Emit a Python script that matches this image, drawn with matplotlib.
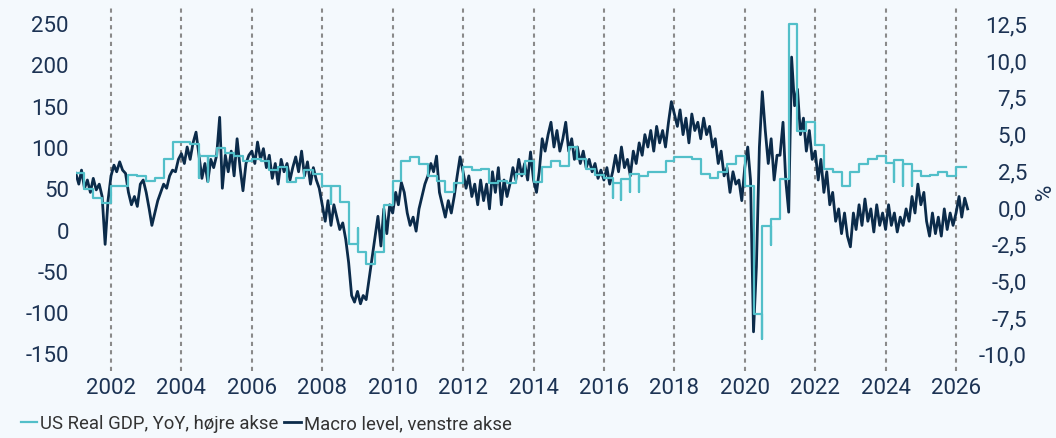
import matplotlib
matplotlib.use("Agg")
import matplotlib.pyplot as plt
import matplotlib.dates as mdates
from matplotlib.ticker import FuncFormatter
import numpy as np
import pandas as pd

BG = "#f4f9fd"
NAVY = "#0b2b4a"
CYAN = "#52bfc9"
TXT = "#1c3354"

# Macro level (left axis), monthly from Jan 2001
macro = [
    68, 55, 72, 50, 60, 45, 62, 48, 55, 40, -18, 35,          # 2001
    65, 78, 70, 82, 72, 68, 45, 30, 40, 28, 55, 60,           # 2002
    45, 25, 5, 20, 35, 45, 55, 50, 65, 72, 70, 85,            # 2003
    92, 80, 100, 85, 105, 118, 90, 62, 80, 58, 85, 75,        # 2004
    90, 136, 50, 90, 70, 95, 65, 110, 75, 47, 80, 90,         # 2005
    95, 80, 106, 85, 98, 75, 90, 62, 80, 55, 85, 70,          # 2006
    80, 60, 75, 88, 70, 95, 65, 82, 55, 75, 60, 50,           # 2007
    30, 10, 35, 5, 30, 15, 0, 8, -12, -40, -80, -88,          # 2008
    -75, -90, -80, -85, -60, -35, -10, 16, -20, 25, -5, 30,   # 2009
    20, 45, 30, 57, 45, 20, 5, 15, -2, 25, 40, 55,            # 2010
    65, 80, 70, 89, 45, 30, 15, 35, 20, 40, 65, 88,           # 2011
    70, 50, 65, 40, 55, 30, 60, 35, 55, 25, 70, 45,           # 2012
    75, 30, 60, 40, 55, 75, 60, 85, 65, 80, 60, 94,           # 2013
    60, 45, 70, 110, 95, 115, 130, 100, 120, 95, 110, 130,    # 2014
    95, 110, 85, 100, 80, 95, 75, 85, 70, 80, 62, 72,         # 2015
    60, 75, 55, 70, 90, 70, 100, 75, 85, 65, 95, 80,          # 2016
    105, 90, 115, 100, 120, 95, 125, 105, 120, 100, 130, 155, # 2017
    140, 125, 145, 115, 135, 105, 140, 120, 130, 110, 135, 115,  # 2018
    125, 100, 110, 80, 95, 65, 75, 45, 70, 55, 60, 35,        # 2019
    75, 100, 60, -124, -45, 100, 167, 120, 80, 110, 60, 90,   # 2020
    90, 130, 60, 21, 209, 150, 170, 115, 135, 95, 120, 85,    # 2021
    95, 60, 85, 45, 70, 30, 45, 10, 25, -5, 20, -8,           # 2022
    -21, 20, 0, 30, 5, 37, 10, 25, -3, 30, 5, 20,             # 2023
    0, 30, 5, 20, -3, 15, 5, 25, 10, 40, 20, 55,              # 2024
    30, 45, 10, -8, 20, -5, 15, -8, 25, 0, 20, 5,             # 2025
    20, 40, 15, 38, 25,                                       # 2026
]
macro_dates = pd.date_range("2001-01-01", periods=len(macro), freq="MS")

# US real GDP YoY (right axis), quarterly from 2001Q1
gdp = [
    2.3, 1.2, 0.6, 0.3,
    1.4, 1.4, 2.2, 2.1,
    1.8, 2.0, 3.3, 4.4,
    4.4, 4.3, 3.5, 3.5,
    4.0, 3.7, 3.5, 3.1,
    3.3, 3.1, 2.5, 2.7,
    1.7, 2.0, 2.5, 2.25,
    1.45, 1.45, 0.35, -2.5,
    -3.1, -3.9, -3.1, 0.15,
    1.8, 3.1, 3.4, 2.9,
    2.1, 1.8, 1.0, 1.6,
    2.7, 2.5, 2.6, 1.6,
    1.8, 1.6, 2.25, 3.1,
    1.7, 2.7, 3.1, 2.8,
    4.1, 3.3, 2.6, 2.2,
    2.0, 1.6, 1.9, 2.25,
    2.1, 2.4, 2.4, 3.1,
    3.4, 3.4, 3.3, 2.25,
    2.0, 2.4, 2.9, 3.5,
    1.4, -7.3, -1.3, -0.8,
    1.9, 12.5, 5.2, 5.8,
    4.2, 2.6, 2.4, 1.4,
    2.4, 2.9, 3.3, 3.5,
    3.0, 3.2, 2.9, 2.45,
    2.1, 2.2, 2.4, 2.1,
    2.7,
]
gdp_dates = pd.date_range("2001-01-01", periods=len(gdp), freq="QS")
gdp_end = pd.Timestamp("2026-04-10")

# brief revision spikes at some quarter boundaries
gdp_spikes = {
    "2004-07-01": 2.0, "2004-10-01": 1.7, "2008-04-01": 0.2,
    "2009-01-01": -1.4, "2016-04-01": 0.6, "2016-07-01": 0.5,
    "2016-10-01": 1.0, "2017-01-01": 1.0, "2020-07-01": -9.0,
    "2020-10-01": -2.6, "2024-04-01": 1.7, "2024-07-01": 1.4,
    "2024-10-01": 1.4,
}

# step path for the quarterly series
bounds = list(gdp_dates[1:]) + [gdp_end]
gx, gy = [], []
for d0, d1, v in zip(gdp_dates, bounds, gdp):
    gx += [d0, d1]
    gy += [v, v]
    key = d1.strftime("%Y-%m-%d")
    if key in gdp_spikes:
        gx.append(d1)
        gy.append(gdp_spikes[key])

plt.rcParams["font.family"] = ["Roboto", "DejaVu Sans"]

fig = plt.figure(figsize=(10.56, 4.39), dpi=100, facecolor=BG)
ax = fig.add_axes([0.0718, 0.1526, 0.8467, 0.8292])
ax.set_facecolor(BG)
ax2 = ax.twinx()

l_macro, = ax.plot(macro_dates, macro, color=NAVY, lw=2.0, zorder=3,
                   label="Macro level, venstre akse")
l_gdp, = ax2.plot(gx, gy, color=CYAN, lw=1.6, zorder=3,
                  label="US Real GDP, YoY, højre akse")

ax.set_xlim(pd.Timestamp("2001-01-01"), pd.Timestamp("2026-05-25"))
ax.set_ylim(-171.5, 269.7)
ax2.set_ylim(-11.18, 13.63)

ax.set_yticks(np.arange(-150, 251, 50))
ax2.set_yticks(np.arange(-10, 12.6, 2.5))
ax.yaxis.set_major_formatter(FuncFormatter(lambda v, p: f"{v:.0f}"))
ax2.yaxis.set_major_formatter(
    FuncFormatter(lambda v, p: f"{v:.1f}".replace(".", ",")))

ax.xaxis.set_major_locator(mdates.YearLocator(2, month=1, day=1))
ax.xaxis.set_major_formatter(mdates.DateFormatter("%Y"))
ax.grid(axis="x", color="#8a8a8a", lw=1.5, ls=(0, (2, 2)))
ax.set_axisbelow(True)

for a in (ax, ax2):
    for s in a.spines.values():
        s.set_visible(False)
    a.tick_params(length=0, labelsize=16, labelcolor=TXT)
ax.tick_params(axis="y", pad=5)
ax.tick_params(axis="x", pad=4)
ax2.tick_params(axis="y", pad=41)
for lab in ax2.get_yticklabels():
    lab.set_horizontalalignment("right")

fig.text(1045 / 1056, 0.5626, "%", rotation=90, fontsize=16, color=TXT,
         ha="center", va="center")

fig.legend(handles=[l_gdp, l_macro], loc="lower left",
           bbox_to_anchor=(0.004, -0.025), ncol=2, frameon=False,
           fontsize=13.3, labelcolor="#333333", handlelength=0.9,
           handletextpad=0.15, columnspacing=0.3)

fig.savefig("out.png", dpi=100, facecolor=BG)
